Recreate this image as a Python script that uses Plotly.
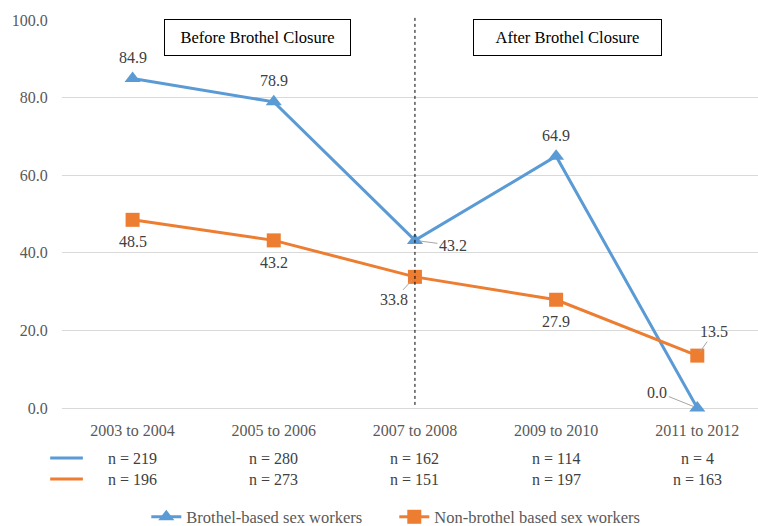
import plotly.graph_objects as go

categories = ["2003 to 2004", "2005 to 2006", "2007 to 2008", "2009 to 2010", "2011 to 2012"]
brothel = [84.9, 78.9, 43.2, 64.9, 0.0]
non_brothel = [48.5, 43.2, 33.8, 27.9, 13.5]
n_brothel = [219, 280, 162, 114, 4]
n_non_brothel = [196, 273, 151, 197, 163]
y_ticks = [0, 20, 40, 60, 80, 100]

BLUE = "#5B9BD5"
ORANGE = "#ED7D31"
FONT = "Liberation Serif"
GRAY_TXT = "#595959"
LBL_TXT = "#404040"
FS = 16

xs = list(range(len(categories)))

fig = go.Figure()
fig.add_trace(go.Scatter(
    x=xs, y=brothel, mode="lines+markers", name="Brothel-based sex workers",
    line=dict(color=BLUE, width=3),
    marker=dict(symbol="triangle-up", size=14, color=BLUE),
    cliponaxis=False,
))
fig.add_trace(go.Scatter(
    x=xs, y=non_brothel, mode="lines+markers", name="Non-brothel based sex workers",
    line=dict(color=ORANGE, width=3),
    marker=dict(symbol="square", size=14, color=ORANGE),
    cliponaxis=False,
))

ann = []
b_pos = [("above",), ("above",), ("lead", 38, 5), ("above",), ("lead", -40, -16)]
o_pos = [("below",), ("below",), ("lead", -21, 23), ("below",), ("lead", 17, -24)]
for series, pos in ((brothel, b_pos), (non_brothel, o_pos)):
    for i, (v, p) in enumerate(zip(series, pos)):
        base = dict(x=i, y=v, xref="x", yref="y", text=f"{v:.1f}",
                    font=dict(family=FONT, size=FS, color=LBL_TXT))
        if p[0] == "above":
            ann.append(dict(base, showarrow=False, yshift=21))
        elif p[0] == "below":
            ann.append(dict(base, showarrow=False, yshift=-22))
        else:
            ann.append(dict(base, showarrow=True, ax=p[1], ay=p[2],
                            arrowhead=0, arrowwidth=1, arrowcolor="#A6A6A6",
                            standoff=4))

for i in xs:
    ann.append(dict(x=i, y=-0.129, xref="x", yref="paper", yanchor="middle",
                    text=f"n = {n_brothel[i]}",
                    showarrow=False, font=dict(family=FONT, size=FS, color=LBL_TXT)))
    ann.append(dict(x=i, y=-0.184, xref="x", yref="paper", yanchor="middle",
                    text=f"n = {n_non_brothel[i]}",
                    showarrow=False, font=dict(family=FONT, size=FS, color=LBL_TXT)))

ann.append(dict(x=0.888, y=95.4, xref="x", yref="y", text="Before Brothel Closure",
                showarrow=False, width=183, height=33, bordercolor="#000000", borderwidth=1,
                bgcolor="white", font=dict(family=FONT, size=16.5, color="#000000")))
ann.append(dict(x=3.08, y=95.6, xref="x", yref="y", text="After Brothel Closure",
                showarrow=False, width=185, height=33, bordercolor="#000000", borderwidth=1,
                bgcolor="white", font=dict(family=FONT, size=16.5, color="#000000")))

shapes = [
    dict(type="line", xref="x", yref="paper", x0=2, x1=2, y0=0.008, y1=1.013,
         line=dict(color="#000000", width=1, dash="dot")),
    dict(type="line", xref="paper", yref="paper", x0=-0.017, x1=0.030, y0=-0.129, y1=-0.129,
         line=dict(color=BLUE, width=3)),
    dict(type="line", xref="paper", yref="paper", x0=-0.017, x1=0.030, y0=-0.183, y1=-0.183,
         line=dict(color=ORANGE, width=3)),
]

fig.update_layout(
    width=758, height=526,
    margin=dict(l=62, r=0, t=20, b=118, autoexpand=False),
    plot_bgcolor="white", paper_bgcolor="white",
    font=dict(family=FONT, size=FS, color=GRAY_TXT),
    showlegend=True,
    legend=dict(orientation="h", xref="container", yref="container",
                x=0.193, xanchor="left", y=0.017, yanchor="middle",
                font=dict(family=FONT, size=16.5, color=GRAY_TXT), itemwidth=30,
                entrywidthmode="pixels", entrywidth=203,
                tracegroupgap=0, bgcolor="rgba(0,0,0,0)"),
    annotations=ann,
    shapes=shapes,
    xaxis=dict(range=[-0.5, 4.43], tickmode="array", tickvals=xs, ticktext=categories,
               showgrid=False, zeroline=False, showline=False, automargin=False,
               ticks="outside", ticklen=8, tickcolor="rgba(0,0,0,0)",
               tickfont=dict(family=FONT, size=FS, color=GRAY_TXT)),
    yaxis=dict(range=[0, 100], tickvals=y_ticks, tickformat=".1f", automargin=False,
               showgrid=True, gridcolor="#D9D9D9", gridwidth=1,
               zeroline=True, zerolinecolor="#D9D9D9", zerolinewidth=1, showline=False,
               ticks="outside", ticklen=10, tickcolor="rgba(0,0,0,0)",
               tickfont=dict(family=FONT, size=FS, color=GRAY_TXT)),
)

fig.write_html("out.html", config={"displayModeBar": False},
               post_script="document.body.style.margin='0';document.body.style.padding='0';")
